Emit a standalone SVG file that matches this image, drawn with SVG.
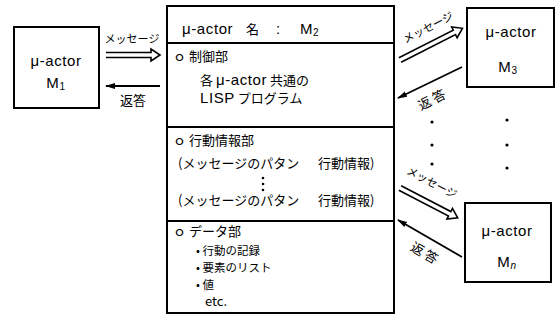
<svg xmlns="http://www.w3.org/2000/svg" width="560" height="321" viewBox="0 0 560 321">
<style>
.box{fill:#fff;stroke:#000;stroke-width:2}
.sep{stroke:#000;stroke-width:1.8}
text{font-family:"Noto Sans CJK JP","Liberation Sans",sans-serif;font-size:13px;fill:#000}
.c{text-anchor:middle}
.lat{font-family:"Liberation Sans","Noto Sans CJK JP",sans-serif;font-size:15px;letter-spacing:0.6px}
.lbl{font-size:11px}
.item{font-size:11.5px}
.dbl{fill:none;stroke:#000;stroke-width:1.6;stroke-linejoin:miter}
.ret{stroke:#000;stroke-width:1.8;fill:none}
.dot{fill:#000}
</style>
<defs>
<marker id="ah" viewBox="0 0 10 8" refX="9" refY="4" markerWidth="10" markerHeight="8" markerUnits="userSpaceOnUse" orient="auto">
<path d="M0,1 L10,4 L0,7 Z" fill="#000"/>
</marker>
</defs>
<rect width="560" height="321" fill="#fff"/>

<g id="M1">
<rect class="box" x="14" y="27" width="85" height="81"/>
<text class="c lat" x="56" y="66">μ-actor</text>
<text class="c lat" x="56" y="88">M<tspan font-size="10" dy="2">1</tspan></text>
</g>

<g id="M2">
<rect class="box" x="167" y="6" width="227" height="307"/>
<line class="sep" x1="167" y1="43" x2="394" y2="43"/>
<line class="sep" x1="167" y1="127" x2="394" y2="127"/>
<line class="sep" x1="167" y1="221" x2="394" y2="221"/>
<text class="lat" x="182" y="34">μ-actor</text>
<text x="246" y="34" font-size="15">名</text>
<text class="lat" x="276" y="34">:</text>
<text class="lat" x="300" y="34">M<tspan font-size="10" dy="2">2</tspan></text>
<text x="173" y="61">ｏ 制御部</text>
<text x="200" y="85" font-size="14">各 <tspan class="lat">μ-actor</tspan> 共通の</text>
<text x="200" y="103" font-size="14"><tspan class="lat">LISP</tspan> プログラム</text>
<text x="173" y="145">ｏ 行動情報部</text>
<text x="178" y="168">(メッセージのパタン</text>
<text x="318" y="168">行動情報)</text>
<circle class="dot" cx="263" cy="178" r="1.3"/>
<circle class="dot" cx="263" cy="184" r="1.3"/>
<circle class="dot" cx="263" cy="190" r="1.3"/>
<text x="178" y="205">(メッセージのパタン</text>
<text x="318" y="205">行動情報)</text>
<text x="173" y="236">ｏ データ部</text>
<text class="item" x="196" y="255">• 行動の記録</text>
<text class="item" x="196" y="272">• 要素のリスト</text>
<text class="item" x="196" y="289">• 値</text>
<text x="205" y="306" font-family="Liberation Sans, sans-serif" font-size="12.5">etc.</text>
</g>

<g id="M3">
<rect class="box" x="467" y="8" width="87" height="79"/>
<text class="c lat" x="511" y="37">μ-actor</text>
<text class="c lat" x="508" y="72">M<tspan font-size="10" dy="2">3</tspan></text>
</g>

<g id="Mn">
<rect class="box" x="465" y="203" width="86" height="79"/>
<text class="c lat" x="507" y="236">μ-actor</text>
<text class="c lat" x="507" y="267">M<tspan font-size="10" dy="2" font-style="italic">n</tspan></text>
</g>

<g id="dots">
<circle class="dot" cx="432" cy="122" r="1.6"/>
<circle class="dot" cx="432" cy="145" r="1.6"/>
<circle class="dot" cx="432" cy="164" r="1.6"/>
<circle class="dot" cx="507" cy="120" r="1.6"/>
<circle class="dot" cx="507" cy="145" r="1.6"/>
<circle class="dot" cx="507" cy="168" r="1.6"/>
</g>

<g id="connectors">
<g transform="translate(106,55)">
<path class="dbl" d="M0,-2.5 H45 V-6 L54,0 L45,6 V2.5 H0"/>
</g>
<line class="ret" x1="160" y1="86" x2="106" y2="86" marker-end="url(#ah)"/>
<text class="c lbl" x="132" y="43">メッセージ</text>
<text class="c" x="133" y="105">返答</text>

<g transform="translate(400,60) rotate(-26.9)">
<path class="dbl" d="M0,-2.5 H61 V-6 L70,0 L61,6 V2.5 H0"/>
</g>
<line class="ret" x1="462" y1="67" x2="398" y2="98" marker-end="url(#ah)"/>
<text class="c lbl" transform="translate(430,31) rotate(-27)">メッセージ</text>
<text class="c" transform="translate(434,104) rotate(-27)">返 答</text>

<g transform="translate(400,188) rotate(27.4)">
<path class="dbl" d="M0,-2.5 H56 V-6 L65,0 L56,6 V2.5 H0"/>
</g>
<line class="ret" x1="462" y1="257" x2="398" y2="220" marker-end="url(#ah)"/>
<text class="c lbl" transform="translate(430,186) rotate(28)">メッセージ</text>
<text class="c" transform="translate(422,257) rotate(30)">返 答</text>
</g>
</svg>
